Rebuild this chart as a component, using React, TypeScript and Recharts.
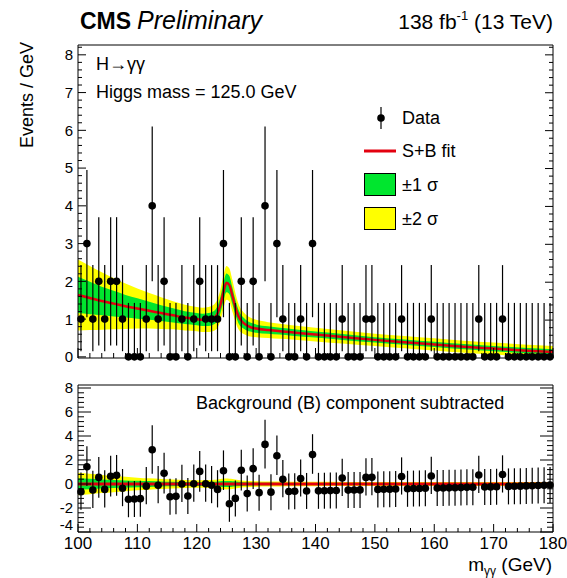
import React from "react";
import { ComposedChart, XAxis, YAxis, Area, Line, Scatter, ErrorBar } from "recharts";

const FONT = "'Liberation Sans', Arial, Helvetica, sans-serif";
const RED = "#e3000f";
const GREEN = "#00e62e";
const YELLOW = "#ffff00";

// bin centres of the 1 GeV bins (GeV)
const binCenters = [
  100.5, 101.5, 102.5, 103.5, 104.5, 105.5, 106.5, 107.5, 108.5, 109.5,
  110.5, 111.5, 112.5, 113.5, 114.5, 115.5, 116.5, 117.5, 118.5, 119.5,
  120.5, 121.5, 122.5, 123.5, 124.5, 125.5, 126.5, 127.5, 128.5, 129.5,
  130.5, 131.5, 132.5, 133.5, 134.5, 135.5, 136.5, 137.5, 138.5, 139.5,
  140.5, 141.5, 142.5, 143.5, 144.5, 145.5, 146.5, 147.5, 148.5, 149.5,
  150.5, 151.5, 152.5, 153.5, 154.5, 155.5, 156.5, 157.5, 158.5, 159.5,
  160.5, 161.5, 162.5, 163.5, 164.5, 165.5, 166.5, 167.5, 168.5, 169.5,
  170.5, 171.5, 172.5, 173.5, 174.5, 175.5, 176.5, 177.5, 178.5, 179.5,
];

// events / GeV in each bin
const counts = [
  1, 3, 1, 2, 1, 2, 2, 1, 0, 0,
  0, 1, 4, 1, 2, 0, 0, 1, 0, 1,
  2, 1, 1, 1, 3, 0, 0, 2, 0, 2,
  0, 4, 0, 3, 1, 0, 0, 1, 0, 3,
  0, 0, 0, 0, 1, 0, 0, 0, 1, 1,
  0, 0, 0, 0, 1, 0, 0, 0, 0, 1,
  0, 0, 0, 0, 0, 0, 0, 1, 0, 0,
  0, 1, 0, 0, 0, 0, 0, 0, 0, 0,
];

// data minus background component
const residuals = [
  -0.64, 1.44, -0.5, 0.55, -0.45, 0.65, 0.72, -0.35, -1.27, -1.25,
  -1.22, -0.18, 2.85, -0.1, 0.9, -1.06, -1.03, 0.0, -1.0, 0.02,
  1.05, 0.02, -0.1, -0.45, 1.1, -1.65, -1.2, 1.15, -0.8, 1.28,
  -0.72, 3.3, -0.68, 2.35, 0.4, -0.62, -0.6, 0.45, -0.58, 2.45,
  -0.57, -0.56, -0.55, -0.54, 0.5, -0.51, -0.5, -0.49, 0.55, 0.56,
  -0.45, -0.44, -0.43, -0.42, 0.62, -0.4, -0.38, -0.37, -0.36, 0.67,
  -0.34, -0.33, -0.32, -0.31, -0.3, -0.28, -0.27, 0.75, -0.25, -0.24,
  -0.23, 0.79, -0.2, -0.19, -0.18, -0.16, -0.14, -0.12, -0.1, -0.08,
];

// error bar sizes by bin content (index = events)
const errLoByCount = [0, 0.85, 1.7, 1.95, 2.0];
const errHiByCount = [1.43, 1.43, 1.7, 1.95, 2.1];
const resErrLoByCount = [1.5, 1.5, 1.7, 1.6, 2.0];
const resErrHiByCount = [1.5, 1.6, 1.7, 1.7, 2.05];

// S+B fit curve and its uncertainty bands
const fitMass = [100, 102, 104, 106, 108, 110, 112, 114, 116, 118, 120, 121, 122, 123, 123.5, 124, 124.5, 125, 125.5, 126, 126.5, 127, 128, 129, 130, 132, 134, 136, 140, 145, 150, 155, 160, 165, 170, 175, 180];
const fitSB = [1.64, 1.56, 1.48, 1.41, 1.34, 1.28, 1.22, 1.16, 1.1, 1.04, 1.0, 0.98, 0.99, 1.05, 1.15, 1.38, 1.72, 1.96, 1.9, 1.62, 1.32, 1.08, 0.88, 0.79, 0.75, 0.71, 0.68, 0.65, 0.59, 0.52, 0.45, 0.39, 0.33, 0.27, 0.22, 0.17, 0.13];
const band1 = [0.48, 0.43, 0.38, 0.34, 0.3, 0.27, 0.24, 0.21, 0.19, 0.17, 0.16, 0.16, 0.17, 0.18, 0.2, 0.22, 0.24, 0.25, 0.24, 0.22, 0.2, 0.18, 0.14, 0.12, 0.11, 0.1, 0.09, 0.09, 0.08, 0.08, 0.07, 0.07, 0.07, 0.07, 0.07, 0.07, 0.07];
const band2 = [0.94, 0.85, 0.76, 0.68, 0.6, 0.53, 0.47, 0.42, 0.37, 0.34, 0.32, 0.32, 0.33, 0.35, 0.38, 0.42, 0.44, 0.45, 0.44, 0.42, 0.38, 0.34, 0.28, 0.25, 0.23, 0.21, 0.2, 0.19, 0.18, 0.17, 0.16, 0.16, 0.16, 0.16, 0.16, 0.16, 0.16];

const range = (a: number, b: number, step: number) => {
  const out: number[] = [];
  for (let v = a; v <= b + 1e-9; v += step) out.push(Math.round(v * 100) / 100);
  return out;
};
const xTicks = range(100, 180, 2);
const yTicksTop = range(0, 8.2, 0.2);
const yTicksBottom = range(-4, 8, 0.4);

const mainPoints = binCenters.map((m, i) => ({
  m,
  v: counts[i],
  err: [errLoByCount[counts[i]], errHiByCount[counts[i]]],
}));
const resPoints = binCenters.map((m, i) => ({
  m,
  v: residuals[i],
  err: [resErrLoByCount[counts[i]], resErrHiByCount[counts[i]]],
}));
const fitRows = fitMass.map((m, i) => ({
  m,
  fit: fitSB[i],
  s1: [fitSB[i] - band1[i], fitSB[i] + band1[i]],
  s2: [fitSB[i] - band2[i], fitSB[i] + band2[i]],
}));
const subRows = fitMass.map((m, i) => ({
  m,
  zero: 0,
  s1: [-band1[i], band1[i]],
  s2: [-band2[i], band2[i]],
}));

const near = (v: number, step: number) => Math.abs(v / step - Math.round(v / step)) < 1e-6;

const xTick = (side: "top" | "bottom", major: number, minor: number, labels: boolean) => (p: any) => {
  const v = p.payload.value;
  const isMajor = near(v, 10);
  const len = isMajor ? major : minor;
  const dir = side === "bottom" ? -1 : 1;
  return (
    <g>
      <line x1={p.x} x2={p.x} y1={p.y} y2={p.y + dir * len} stroke="#000" strokeWidth={1} />
      {labels && isMajor && (
        <text x={p.x} y={p.y + 17} textAnchor="middle" fontSize={17} fontFamily={FONT} fill="#000">
          {v}
        </text>
      )}
    </g>
  );
};

const yTick = (side: "left" | "right", majorStep: number, major: number, minor: number, lowest?: number) => (p: any) => {
  const v = p.payload.value;
  const isMajor = near(v, majorStep);
  const len = isMajor ? major : minor;
  const dir = side === "left" ? 1 : -1;
  // lowest label sits a little higher so it clears the x labels
  const shift = lowest !== undefined && Math.abs(v - lowest) < 1e-6 ? -7 : 0;
  return (
    <g>
      <line x1={p.x} x2={p.x + dir * len} y1={p.y} y2={p.y} stroke="#000" strokeWidth={1} />
      {side === "left" && isMajor && (
        <text x={p.x - 5} y={p.y + shift} dy="0.36em" textAnchor="end" fontSize={15} fontFamily={FONT} fill="#000">
          {v}
        </text>
      )}
    </g>
  );
};

const Dot = (p: any) => <circle cx={p.cx} cy={p.cy} r={3.8} fill="#000" />;

const axisLine = { stroke: "#000", strokeWidth: 1 };

const App: React.FC = () => {
  return (
    <div style={{ position: "absolute", left: 0, top: 0, width: 567, height: 578, background: "#fff" }}>
      {/* upper panel */}
      <div style={{ position: "absolute", left: 0, top: 0 }}>
        <ComposedChart width={567} height={370} data={fitRows} margin={{ top: 0, right: 0, bottom: 0, left: 0 }}>
          <XAxis
            dataKey="m"
            type="number"
            domain={[100, 180]}
            ticks={xTicks}
            interval={0}
            height={12}
            tickSize={0}
            tickMargin={0}
            tickLine={false}
            axisLine={axisLine}
            tick={xTick("bottom", 10, 5, false)}
          />
          <XAxis
            xAxisId="top"
            orientation="top"
            type="number"
            domain={[100, 180]}
            allowDataOverflow
            ticks={xTicks}
            interval={0}
            height={45}
            tickSize={0}
            tickMargin={0}
            tickLine={false}
            axisLine={axisLine}
            tick={xTick("top", 10, 5, false)}
          />
          <YAxis
            type="number"
            domain={[0, 8.26]}
            ticks={yTicksTop}
            interval={0}
            width={78}
            tickSize={0}
            tickMargin={0}
            tickLine={false}
            axisLine={axisLine}
            tick={yTick("left", 1, 8, 4)}
          />
          <YAxis
            yAxisId="right"
            orientation="right"
            type="number"
            domain={[0, 8.26]}
            allowDataOverflow
            ticks={yTicksTop}
            interval={0}
            width={14}
            tickSize={0}
            tickMargin={0}
            tickLine={false}
            axisLine={axisLine}
            tick={yTick("right", 1, 8, 4)}
          />
          <Area dataKey="s2" type="monotone" fill={YELLOW} fillOpacity={1} stroke="none" isAnimationActive={false} />
          <Area dataKey="s1" type="monotone" fill={GREEN} fillOpacity={1} stroke="none" isAnimationActive={false} />
          <Line dataKey="fit" type="monotone" stroke={RED} strokeWidth={2.5} dot={false} isAnimationActive={false} />
          <Scatter data={mainPoints} dataKey="v" shape={Dot} isAnimationActive={false}>
            <ErrorBar dataKey="err" direction="y" width={0} stroke="#000" strokeWidth={1.2} isAnimationActive={false} />
          </Scatter>
        </ComposedChart>
      </div>

      {/* lower panel */}
      <div style={{ position: "absolute", left: 0, top: 370 }}>
        <ComposedChart width={567} height={208} data={subRows} margin={{ top: 0, right: 0, bottom: 0, left: 0 }}>
          <XAxis
            dataKey="m"
            type="number"
            domain={[100, 180]}
            ticks={xTicks}
            interval={0}
            height={46}
            tickSize={0}
            tickMargin={0}
            tickLine={false}
            axisLine={axisLine}
            tick={xTick("bottom", 8, 4, true)}
          />
          <XAxis
            xAxisId="top"
            orientation="top"
            type="number"
            domain={[100, 180]}
            allowDataOverflow
            ticks={xTicks}
            interval={0}
            height={15}
            tickSize={0}
            tickMargin={0}
            tickLine={false}
            axisLine={axisLine}
            tick={xTick("top", 8, 4, false)}
          />
          <YAxis
            type="number"
            domain={[-4, 8.25]}
            ticks={yTicksBottom}
            interval={0}
            width={78}
            tickSize={0}
            tickMargin={0}
            tickLine={false}
            axisLine={axisLine}
            tick={yTick("left", 2, 13, 6, -4)}
          />
          <YAxis
            yAxisId="right"
            orientation="right"
            type="number"
            domain={[-4, 8.25]}
            allowDataOverflow
            ticks={yTicksBottom}
            interval={0}
            width={14}
            tickSize={0}
            tickMargin={0}
            tickLine={false}
            axisLine={axisLine}
            tick={yTick("right", 2, 13, 6)}
          />
          <Area dataKey="s2" type="monotone" fill={YELLOW} fillOpacity={1} stroke="none" isAnimationActive={false} />
          <Area dataKey="s1" type="monotone" fill={GREEN} fillOpacity={1} stroke="none" isAnimationActive={false} />
          <Line dataKey="zero" type="linear" stroke={RED} strokeWidth={3} dot={false} isAnimationActive={false} />
          <Scatter data={resPoints} dataKey="v" shape={Dot} isAnimationActive={false}>
            <ErrorBar dataKey="err" direction="y" width={0} stroke="#000" strokeWidth={1.2} isAnimationActive={false} />
          </Scatter>
        </ComposedChart>
      </div>

      {/* labels and legend */}
      <svg
        width={567}
        height={578}
        style={{ position: "absolute", left: 0, top: 0, pointerEvents: "none" }}
        fontFamily={FONT}
      >
        <text x={80} y={29} fontSize={23} fontWeight="bold">CMS</text>
        <text x={137} y={29} fontSize={25} fontStyle="italic">Preliminary</text>
        <text x={553} y={29} fontSize={21} textAnchor="end">
          138 fb<tspan fontSize={13} dy={-9}>-1</tspan>
          <tspan dy={9}> (13 TeV)</tspan>
        </text>
        <text x={33} y={42} fontSize={18} textAnchor="end" transform="rotate(-90 33 42)">
          Events / GeV
        </text>
        <text x={96} y={70} fontSize={18}>H→γγ</text>
        <text x={96} y={98} fontSize={18}>Higgs mass = 125.0 GeV</text>

        {/* legend */}
        <line x1={381} x2={381} y1={107} y2={129} stroke="#000" strokeWidth={1.2} />
        <circle cx={381} cy={118} r={3.8} fill="#000" />
        <text x={402} y={124} fontSize={18}>Data</text>
        <line x1={364} x2={396} y1={151} y2={151} stroke={RED} strokeWidth={3} />
        <text x={402} y={157} fontSize={18}>S+B fit</text>
        <rect x={364.5} y={173.5} width={31} height={22} fill={GREEN} stroke="#000" strokeWidth={1} />
        <text x={402} y={191} fontSize={18}>±1 σ</text>
        <rect x={364.5} y={207.5} width={31} height={22} fill={YELLOW} stroke="#000" strokeWidth={1} />
        <text x={402} y={225} fontSize={18}>±2 σ</text>

        <text x={196} y={409} fontSize={18}>Background (B) component subtracted</text>
        <text x={552} y={571} fontSize={19} textAnchor="end">
          m<tspan fontSize={12} dy={4}>γγ</tspan>
          <tspan dy={-4}> (GeV)</tspan>
        </text>
      </svg>
    </div>
  );
};

export default App;
